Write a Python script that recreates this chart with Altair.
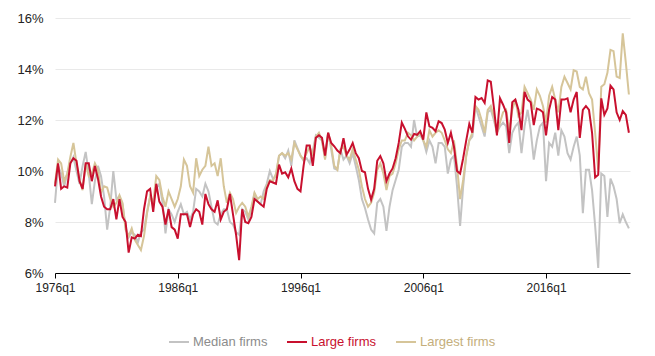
import altair as alt
import pandas as pd

start_year = 1976
tick_years = [1976, 1986, 1996, 2006, 2016]
y_ticks = [6, 8, 10, 12, 14, 16]
series_names = ["Median firms", "Large firms", "Largest firms"]
line_colors = ["#c3c3c3", "#c8102e", "#d6c599"]
label_colors = ["#8c8c8c", "#c8102e", "#c4ae7b"]

median = [
    8.75, 10.2, 9.9, 9.4, 9.9, 10.3, 10.55, 10.0, 9.5, 10.2,
    10.75, 9.9, 8.7, 9.6, 10.2, 9.8, 9.0, 7.7, 8.6, 10.0,
    8.9, 9.0, 8.7, 7.8, 7.4, 7.6, 7.5, 7.2, 7.6, 7.7,
    8.4, 9.0, 8.8, 9.3, 9.5, 8.8, 7.55, 8.5, 8.3, 8.0,
    8.4, 8.7, 8.3, 8.4, 8.1, 8.4, 9.3, 9.2, 9.0, 9.5,
    9.2, 8.6, 8.0, 7.9, 8.3, 8.5, 8.5, 8.0, 7.9, 7.6,
    7.5, 8.5, 8.4, 8.1, 8.5, 9.1, 8.8, 8.7, 9.2, 9.5,
    10.0, 9.7, 9.8, 10.6, 10.7, 10.5, 10.8, 10.2, 11.2, 10.9,
    10.6, 10.4, 10.5, 10.3, 10.8, 11.4, 11.3, 11.2, 10.5, 11.5,
    10.85, 10.1, 10.05, 10.85, 10.45, 10.6, 10.3, 10.7, 10.2, 9.65,
    8.9, 8.55, 8.1, 7.7, 7.55, 8.75, 8.9, 8.6, 7.65, 8.6,
    9.25, 9.65, 10.05, 10.95, 11.1, 11.1, 10.95, 12.0, 11.35, 11.4,
    11.2, 10.75, 11.2, 10.95, 10.3, 11.1, 11.1, 10.95, 9.9, 10.45,
    10.6, 9.4, 7.85, 9.4, 10.6, 11.2, 11.35, 12.55, 12.15, 11.75,
    11.35, 12.3, 12.4, 12.0, 11.5, 11.75, 11.9, 11.75, 10.7, 11.5,
    11.75, 11.9, 10.7, 11.75, 12.4, 11.6, 10.45, 11.2, 11.75, 11.9,
    9.6, 11.1, 10.95, 11.5, 10.6, 11.6, 11.35, 10.7, 10.45, 10.95,
    11.35, 10.6, 8.35, 10.05, 10.05, 9.25, 7.85, 6.2, 9.9, 9.8,
    8.2, 9.7, 9.4, 8.9, 7.95, 8.3, 8.0, 7.75,
]

large = [
    9.4, 10.3, 9.3, 9.4, 9.35, 10.3, 10.5, 10.4, 9.6, 9.3,
    10.3, 10.3, 9.6, 10.2, 9.7, 9.0, 8.6, 8.5, 8.5, 8.9,
    8.1, 8.9, 8.2, 8.0, 6.8, 7.4, 7.35, 7.5, 7.45, 8.5,
    9.2, 9.3, 8.4, 9.5, 8.8, 8.6, 7.9, 8.5, 7.8, 7.7,
    7.35, 8.3, 8.3, 8.3, 7.8, 8.3, 8.5, 8.4, 7.9, 9.1,
    8.7, 8.5, 8.4, 8.85, 8.1, 8.4, 8.5, 9.1, 8.3, 7.5,
    6.5, 8.5, 8.0, 7.95, 8.2, 8.9, 8.8, 8.7, 8.6, 9.3,
    9.6, 9.55, 9.5, 10.25, 9.9, 9.95, 9.75, 10.1, 9.6, 9.3,
    9.2, 10.2, 11.0, 11.0, 10.2, 11.3, 11.4, 11.3, 10.6, 11.5,
    11.1, 10.97, 10.8, 10.7, 11.29, 10.64, 10.84, 11.1, 10.7, 10.5,
    10.0, 9.95, 9.3, 8.88, 9.3, 10.4, 10.58, 10.3, 9.6, 9.9,
    10.1, 10.5, 11.1, 11.9, 11.65, 11.36, 11.23, 11.45, 11.42, 11.56,
    11.23, 12.3, 11.75, 11.69, 11.56, 11.95, 11.88, 11.62, 11.1, 11.5,
    10.95, 10.0, 9.9, 10.5, 11.2, 11.85, 11.5, 12.9, 12.8, 12.86,
    12.67, 13.55, 13.5, 12.5, 11.4, 12.85, 12.6, 12.3, 11.1, 12.7,
    12.8, 12.4, 11.6, 13.1, 12.8, 12.7, 11.8, 12.45, 12.4, 12.3,
    11.4, 12.4, 12.9, 12.8, 11.6, 12.8, 12.8, 12.85, 12.3, 12.8,
    13.1, 11.3, 12.4, 12.55, 12.4, 11.5, 9.75, 9.85, 12.85, 12.2,
    12.45, 13.35, 13.2, 12.3, 12.0, 12.35, 12.2, 11.5,
]

largest = [
    9.5, 10.45, 10.3, 9.6, 9.9, 10.55, 11.1, 10.3, 9.65, 9.25,
    10.3, 9.8, 9.9, 10.3, 10.05, 9.15, 9.4, 9.35, 8.9, 8.6,
    8.75, 9.05, 8.75, 7.7, 7.45, 7.75, 7.3, 7.1, 6.9, 7.45,
    8.35, 9.0, 8.75, 9.8, 9.65, 9.0, 8.6, 9.2, 8.9, 8.6,
    8.9, 9.4, 10.45, 10.2, 9.4, 9.15, 10.5, 9.8, 10.05, 10.2,
    10.95, 10.2, 10.3, 9.8, 10.5, 9.4, 8.75, 9.15, 8.9, 8.35,
    8.6, 8.75, 8.6, 8.2, 8.6, 9.15, 8.9, 9.0, 8.9, 9.4,
    9.65, 9.6, 9.9, 10.6, 10.7, 10.6, 10.7, 10.45, 11.1, 10.85,
    10.6, 10.45, 10.7, 10.95, 10.6, 11.35, 11.5, 11.2, 10.45, 11.5,
    11.0, 10.2, 10.05, 10.85, 10.95, 10.6, 10.45, 10.85, 10.45, 10.05,
    9.4, 8.9, 8.6, 8.75, 9.15, 10.05, 10.3, 9.9, 9.25, 9.8,
    9.9, 10.3, 10.85, 11.2, 11.2, 11.5, 11.4, 11.2, 11.35, 11.5,
    11.2, 10.95, 11.6, 11.35, 11.5, 11.6, 11.5, 11.2, 10.85, 10.7,
    11.2, 10.2, 8.9, 9.65, 10.6, 11.2, 11.5, 12.55, 12.4, 12.0,
    11.5, 12.4, 12.55, 12.15, 11.5, 11.9, 12.3, 12.4, 11.6, 12.4,
    12.8, 12.15, 12.3, 13.3, 13.05, 12.8, 12.4, 13.2, 12.95, 12.55,
    11.9, 12.95, 13.3, 12.8, 12.3, 13.3, 13.7, 13.45, 13.2, 13.95,
    13.9, 13.3, 13.2, 13.7, 13.05, 12.8, 11.5, 10.05, 13.3, 13.4,
    13.85, 14.75, 14.7, 13.7, 13.65, 15.4, 14.25, 13.0,
]

rows = []
for name, vals in zip(series_names, [median, large, largest]):
    for i, v in enumerate(vals):
        rows.append({"t": start_year + i / 4.0, "value": v, "series": name})
df = pd.DataFrame(rows)

font = "Liberation Sans"

label_expr = (
    "datum.label == 'Large firms' ? '%s' : (datum.label == 'Median firms' ? '%s' : '%s')"
    % (label_colors[1], label_colors[0], label_colors[2])
)

base = alt.Chart(df).mark_line(strokeWidth=2).encode(
    x=alt.X(
        "t:Q",
        scale=alt.Scale(domain=[1976, 2022.84], nice=False, zero=False),
        axis=alt.Axis(
            values=tick_years,
            labelExpr="datum.value + 'q1'",
            grid=False,
            title=None,
            domainColor="#000000",
            tickColor="#000000",
            tickSize=5,
            labelFontSize=12,
            labelColor="#222222",
            labelFont=font,
            labelFlush=False,
            labelPadding=4,
        ),
    ),
    y=alt.Y(
        "value:Q",
        scale=alt.Scale(domain=[6, 16], nice=False, zero=False),
        axis=alt.Axis(
            values=y_ticks,
            labelExpr="datum.value + '%'",
            domain=False,
            ticks=False,
            title=None,
            gridColor="#e9e9e9",
            labelPadding=12,
            labelFontSize=13,
            labelColor="#222222",
            labelFont=font,
            labelFlush=False,
        ),
    ),
    color=alt.Color(
        "series:N",
        scale=alt.Scale(domain=series_names, range=line_colors),
        legend=alt.Legend(
            orient="none",
            legendX=113,
            legendY=313,
            direction="horizontal",
            title=None,
            symbolType="stroke",
            symbolSize=400,
            symbolStrokeWidth=2,
            labelFontSize=13,
            labelFont=font,
            labelColor={"expr": label_expr},
            columnPadding=15,
            labelOffset=3,
        ),
    ),
)

chart = alt.layer(
    base.transform_filter(alt.datum.series == "Median firms"),
    base.transform_filter(alt.datum.series == "Largest firms"),
    base.transform_filter(alt.datum.series == "Large firms"),
).properties(
    width=575,
    height=255,
    padding={"left": 55, "top": 18, "right": 25, "bottom": 83},
    autosize=alt.AutoSizeParams(type="none"),
    background="white",
).configure_view(stroke=None)

chart.save("out.html", embed_options={"renderer": "svg", "actions": False})
